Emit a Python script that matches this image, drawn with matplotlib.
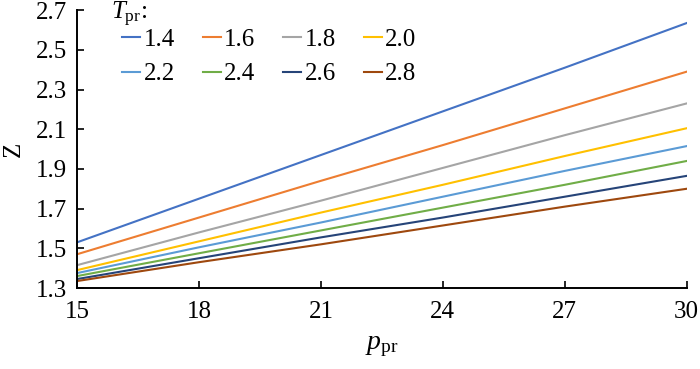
import numpy as np
import matplotlib
matplotlib.use("Agg")
import matplotlib.pyplot as plt

# ---------------------------------------------------------------------------
# Data (Z vs p_pr for several T_pr)
# ---------------------------------------------------------------------------
p_pr = [15, 18, 21, 24, 27, 30]
t_pr_labels = ["1.4", "1.6", "1.8", "2.0", "2.2", "2.4", "2.6", "2.8"]

z_14 = [1.53, 1.75, 1.97, 2.19, 2.41, 2.635]
z_16 = [1.47, 1.655, 1.84, 2.02, 2.205, 2.39]
z_18 = [1.415, 1.58, 1.74, 1.905, 2.07, 2.23]
z_20 = [1.39, 1.535, 1.68, 1.82, 1.965, 2.105]
z_22 = [1.375, 1.505, 1.63, 1.76, 1.89, 2.015]
z_24 = [1.36, 1.475, 1.59, 1.705, 1.82, 1.94]
z_26 = [1.345, 1.45, 1.555, 1.655, 1.76, 1.865]
z_28 = [1.335, 1.43, 1.52, 1.615, 1.71, 1.80]

series = [z_14, z_16, z_18, z_20, z_22, z_24, z_26, z_28]
colors = ["#4472C4", "#ED7D31", "#A5A5A5", "#FFC000",
          "#5B9BD5", "#70AD47", "#264478", "#9E480E"]

plt.rcParams["font.family"] = ["Liberation Serif", "DejaVu Serif"]
plt.rcParams["mathtext.fontset"] = "custom"
plt.rcParams["mathtext.rm"] = "Liberation Serif"
plt.rcParams["mathtext.it"] = "Liberation Serif:italic"

fig = plt.figure(figsize=(7.0, 3.69), dpi=100)
ax = fig.add_axes([0.11, 0.2195, 0.871, 0.753])

handles = []
for ys, c, lab in zip(series, colors, t_pr_labels):
    h, = ax.plot(p_pr, ys, color=c, lw=1.5, label=lab)
    handles.append(h)

ax.set_xlim(15, 30)
ax.set_ylim(1.3, 2.7)
ax.set_xticks(np.arange(15, 31, 3))
ax.set_yticks(np.arange(1.3, 2.71, 0.2))
ax.set_yticklabels([f"{v:.1f}" for v in np.arange(1.3, 2.71, 0.2)])

for side in ["top", "right"]:
    ax.spines[side].set_visible(False)
for side in ["left", "bottom"]:
    ax.spines[side].set_linewidth(1.4)
ax.tick_params(direction="in", length=5, width=1.2, labelsize=18)
ax.tick_params(axis="y", pad=7)
ax.tick_params(axis="x", pad=9)

ax.set_xlabel(r"$\mathit{p}_{\mathrm{pr}}$", fontsize=20, labelpad=8)
ax.set_ylabel("Z", fontsize=18, labelpad=8)

# legend is filled row by row in the reference
order = [0, 4, 1, 5, 2, 6, 3, 7]
ax.legend([handles[i] for i in order], [t_pr_labels[i] for i in order],
          ncol=4, frameon=False, fontsize=18,
          loc="upper left", bbox_to_anchor=(122 / 700, 1 - 28 / 369),
          bbox_transform=fig.transFigure, borderpad=0, borderaxespad=0,
          handlelength=0.72, handletextpad=0.15, columnspacing=1.1,
          labelspacing=0.5)
fig.text(111 / 700, 1 - 14 / 369, r"$\mathit{T}_{\mathrm{pr}}$:",
         fontsize=18, va="center", ha="left")

fig.savefig("out.png", dpi=100)
